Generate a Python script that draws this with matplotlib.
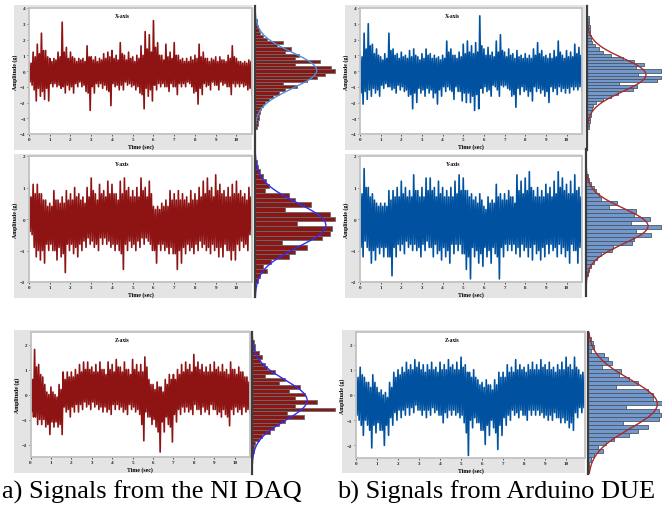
import numpy as np
import matplotlib
matplotlib.use("Agg")
import matplotlib.pyplot as plt
from matplotlib.patches import Rectangle

W, H = 662, 506
STEP = 0.2   # per 0.2 s: main peak up, smaller dip, smaller peak, main dip

# ---- signal peaks ----
daq_x_up = [0.6, 1.2, 1.7, 2.4, 1.3, 0.8, 0.8, 1.2, 3.1, 1.5, 1.2, 0.8, 0.8, 0.8, 1.6, 0.9, 0.9, 0.8,
            1.1, 1.2, 1.3, 1.0, 1.8, 1.0, 1.2, 0.9, 1.0, 1.6, 2.5, 2.3, 3.2, 1.8, 1.0, 1.7, 1.2, 1.8,
            1.0, 0.8, 0.8, 0.9, 1.0, 1.7, 1.2, 0.8, 0.8, 0.9, 0.9, 0.7, 1.0, 1.6, 0.8, 0.6, 0.6, 0.7]
daq_x_lo = [-0.9, -1.9, -1.6, -1.8, -1.9, -1.0, -1.0, -1.1, -1.4, -1.2, -1.4, -1.0, -1.0, -1.3, -2.5,
            -1.4, -1.0, -1.1, -1.2, -2.2, -1.0, -1.2, -1.2, -0.9, -1.0, -1.2, -1.4, -2.4, -1.6, -1.9,
            -1.2, -1.0, -1.0, -1.3, -1.0, -1.5, -1.0, -1.0, -0.8, -1.4, -2.1, -1.5, -1.0, -1.2, -0.9,
            -1.2, -0.9, -1.0, -1.5, -1.0, -1.0, -1.0, -1.2, -1.6]
daq_x_up2 = [0.5, 0.9, 1.1, 1.3, 0.9, 0.6, 0.7, 0.9, 1.2, 0.8, 0.9, 0.6, 0.7, 0.6, 0.9, 0.7, 0.6, 0.7,
             0.8, 0.9, 0.8, 0.7, 1.1, 0.7, 0.8, 0.6, 0.8, 1.0, 1.4, 1.2, 1.5, 1.0, 0.7, 0.9, 0.8, 1.0,
             0.7, 0.6, 0.6, 0.7, 0.8, 0.9, 0.8, 0.6, 0.7, 0.6, 0.7, 0.6, 0.8, 0.9, 0.6, 0.5, 0.5, 0.6]
daq_x_lo2 = [-0.7, -1.2, -1.1, -1.3, -1.1, -0.8, -0.8, -0.9, -1.0, -0.9, -1.0, -0.8, -0.7, -0.9, -1.4,
             -1.0, -0.8, -0.8, -0.9, -1.3, -0.8, -0.9, -0.9, -0.7, -0.8, -0.9, -1.0, -1.5, -1.1, -1.2,
             -0.9, -0.8, -0.8, -1.0, -0.8, -1.0, -0.8, -0.8, -0.7, -1.0, -1.3, -1.1, -0.8, -0.9, -0.7,
             -0.9, -0.7, -0.8, -1.0, -0.8, -0.8, -0.8, -0.9, -1.1]

due_x_up = [1.2, 2.4, 3.0, 1.7, 1.4, 0.9, 1.1, 2.4, 1.4, 1.1, 1.2, 1.0, 1.3, 1.4, 0.9, 1.1, 1.4, 1.1,
            1.0, 0.9, 1.0, 1.9, 1.4, 1.0, 1.2, 1.7, 1.9, 1.6, 1.8, 3.5, 1.4, 1.5, 1.2, 1.9, 2.3, 1.2,
            1.4, 1.1, 1.3, 1.0, 1.1, 1.0, 1.4, 1.8, 1.3, 1.0, 1.1, 1.3, 1.9, 1.0, 1.3, 1.2, 1.7, 1.5]
due_x_lo = [-2.1, -1.8, -1.6, -1.4, -1.6, -1.1, -1.0, -1.2, -1.4, -1.2, -1.3, -1.6, -2.4, -2.0, -1.4,
            -1.6, -1.4, -1.7, -2.1, -1.6, -1.3, -1.2, -1.8, -1.3, -1.9, -2.0, -2.0, -2.5, -2.4, -1.4,
            -1.3, -1.6, -1.0, -1.6, -1.0, -1.1, -1.6, -2.3, -1.5, -1.3, -1.6, -1.9, -1.3, -1.4, -1.6,
            -2.0, -1.3, -1.5, -1.3, -1.4, -1.4, -1.2, -1.2, -1.3]
due_x_up2 = [0.9, 1.4, 1.6, 1.1, 1.0, 0.7, 0.8, 1.3, 1.0, 0.8, 0.9, 0.8, 0.9, 1.0, 0.7, 0.8, 1.0, 0.8,
             0.8, 0.7, 0.8, 1.2, 1.0, 0.8, 0.9, 1.1, 1.2, 1.1, 1.2, 1.6, 1.0, 1.0, 0.9, 1.2, 1.3, 0.9,
             1.0, 0.8, 0.9, 0.8, 0.8, 0.8, 1.0, 1.1, 0.9, 0.8, 0.8, 0.9, 1.2, 0.8, 0.9, 0.9, 1.1, 1.0]
due_x_lo2 = [-1.4, -1.3, -1.2, -1.1, -1.2, -0.9, -0.8, -1.0, -1.1, -0.9, -1.0, -1.2, -1.5, -1.4, -1.1,
             -1.2, -1.1, -1.2, -1.4, -1.2, -1.0, -1.0, -1.3, -1.0, -1.3, -1.4, -1.4, -1.6, -1.5, -1.1,
             -1.0, -1.2, -0.9, -1.2, -0.9, -0.9, -1.2, -1.5, -1.1, -1.0, -1.2, -1.3, -1.0, -1.1, -1.2,
             -1.3, -1.0, -1.1, -1.0, -1.1, -1.1, -1.0, -1.0, -1.0]

daq_y_up = [1.15, 1.1, 1.1, 0.8, 0.6, 0.5, 0.9, 0.6, 0.7, 0.9, 0.8, 1.0, 0.8, 0.7, 1.0, 1.3, 0.8, 1.1,
            0.9, 1.2, 1.1, 0.8, 1.2, 1.3, 1.0, 0.9, 1.0, 1.3, 1.0, 1.2, 0.4, 0.4, 0.5, 0.6, 0.9, 0.8,
            0.9, 0.8, 0.7, 0.9, 0.8, 1.0, 1.2, 1.3, 1.0, 1.4, 1.1, 0.9, 1.0, 1.1, 1.2, 0.9, 0.8, 1.0]
daq_y_lo = [-0.5, -1.2, -1.3, -1.4, -1.0, -1.0, -1.3, -1.2, -1.7, -1.0, -1.1, -1.2, -1.0, -0.9, -0.8,
            -0.9, -1.0, -0.8, -0.8, -0.9, -1.0, -1.0, -1.6, -1.0, -0.9, -1.0, -0.9, -0.8, -0.7, -1.0,
            -1.4, -1.0, -1.0, -1.1, -1.1, -1.6, -1.4, -1.1, -1.0, -1.1, -1.0, -0.9, -1.0, -1.1, -1.0,
            -1.2, -1.2, -1.0, -1.3, -1.3, -1.0, -0.9, -1.0, -0.6]
daq_y_up2 = [0.7, 0.8, 0.8, 0.6, 0.4, 0.4, 0.6, 0.5, 0.5, 0.6, 0.6, 0.7, 0.6, 0.5, 0.7, 0.9, 0.6, 0.8,
             0.7, 0.8, 0.8, 0.6, 0.8, 0.9, 0.7, 0.7, 0.7, 0.9, 0.7, 0.8, 0.3, 0.3, 0.4, 0.4, 0.6, 0.6,
             0.6, 0.6, 0.5, 0.6, 0.6, 0.7, 0.8, 0.9, 0.7, 0.9, 0.8, 0.7, 0.7, 0.8, 0.8, 0.7, 0.6, 0.7]
daq_y_lo2 = [-0.4, -0.9, -1.0, -1.0, -0.8, -0.8, -1.0, -0.9, -1.1, -0.8, -0.8, -0.9, -0.8, -0.7, -0.6,
             -0.7, -0.8, -0.6, -0.6, -0.7, -0.8, -0.8, -1.1, -0.8, -0.7, -0.8, -0.7, -0.6, -0.6, -0.8,
             -1.0, -0.8, -0.8, -0.9, -0.9, -1.1, -1.0, -0.9, -0.8, -0.9, -0.8, -0.7, -0.8, -0.9, -0.8,
             -0.9, -0.9, -0.8, -1.0, -1.0, -0.8, -0.7, -0.8, -0.5]

due_y_up = [1.1, 1.6, 1.0, 0.8, 0.5, 0.5, 0.5, 0.9, 0.9, 1.0, 1.2, 1.0, 0.9, 1.4, 0.9, 1.0, 1.3, 1.3,
            1.0, 1.2, 1.0, 0.9, 1.0, 1.2, 1.4, 1.3, 0.9, 0.8, 0.7, 0.8, 0.4, 0.7, 0.6, 1.1, 0.8, 0.8,
            0.9, 0.7, 1.4, 1.2, 1.3, 1.5, 0.9, 1.0, 0.9, 1.1, 1.0, 1.2, 1.5, 1.3, 1.1, 1.2, 1.4, 1.0]
due_y_lo = [-1.2, -0.9, -1.4, -1.3, -1.1, -1.2, -1.2, -1.8, -1.2, -1.0, -1.1, -0.9, -1.0, -1.0, -1.2,
            -1.0, -0.9, -1.2, -1.1, -1.3, -1.2, -1.4, -1.1, -1.0, -1.1, -1.6, -1.9, -1.2, -1.4, -1.5,
            -1.2, -1.4, -1.1, -1.9, -1.2, -1.0, -1.0, -1.1, -1.2, -1.0, -1.2, -1.3, -1.1, -1.3, -1.2,
            -1.1, -1.0, -1.2, -1.1, -1.2, -1.4, -1.0, -1.4, -1.2]
due_y_up2 = [0.8, 1.0, 0.7, 0.6, 0.4, 0.4, 0.4, 0.6, 0.7, 0.7, 0.8, 0.7, 0.7, 0.9, 0.7, 0.7, 0.9, 0.9,
             0.7, 0.8, 0.7, 0.7, 0.7, 0.8, 0.9, 0.9, 0.7, 0.6, 0.5, 0.6, 0.3, 0.5, 0.5, 0.7, 0.6, 0.6,
             0.7, 0.5, 0.9, 0.8, 0.9, 1.0, 0.7, 0.7, 0.7, 0.8, 0.7, 0.8, 1.0, 0.9, 0.8, 0.8, 0.9, 0.7]
due_y_lo2 = [-0.9, -0.7, -1.0, -1.0, -0.9, -0.9, -0.9, -1.2, -0.9, -0.8, -0.8, -0.7, -0.8, -0.8, -0.9,
             -0.8, -0.7, -0.9, -0.8, -1.0, -0.9, -1.0, -0.8, -0.8, -0.8, -1.1, -1.2, -0.9, -1.0, -1.1,
             -0.9, -1.0, -0.9, -1.2, -0.9, -0.8, -0.8, -0.8, -0.9, -0.8, -0.9, -0.9, -0.8, -1.0, -0.9,
             -0.8, -0.8, -0.9, -0.8, -0.9, -1.0, -0.8, -1.0, -0.9]

daq_z_up = [0.8, 1.8, 1.2, 0.7, 0.1, 0.3, 0.0, 0.4, 0.9, 0.9, 0.9, 1.0, 1.2, 1.3, 1.3, 1.1, 1.2, 1.3,
            1.0, 1.3, 1.2, 1.4, 1.1, 1.3, 1.0, 1.4, 1.2, 1.2, 1.5, 0.6, 0.4, 0.5, 0.3, 0.6, 0.8, 0.8,
            1.0, 1.2, 1.3, 1.2, 1.6, 1.3, 1.2, 1.1, 1.2, 1.3, 1.1, 1.2, 1.0, 1.3, 1.0, 1.1, 0.9, 0.7]
daq_z_lo = [-0.9, -1.2, -1.2, -1.3, -1.6, -1.3, -1.3, -1.6, -0.7, -0.9, -0.7, -0.7, -0.6, -0.5, -0.6,
            -0.5, -0.6, -0.7, -0.7, -0.8, -0.6, -0.6, -0.7, -0.8, -0.6, -0.7, -0.8, -1.85, -0.9, -1.2,
            -1.3, -2.3, -1.5, -1.2, -1.9, -1.1, -0.8, -0.7, -0.7, -0.8, -0.6, -0.8, -0.7, -0.8, -0.6,
            -0.8, -0.9, -0.8, -1.25, -0.8, -0.7, -0.8, -0.7, -0.8]
daq_z_up2 = [0.6, 1.1, 0.8, 0.4, 0.0, 0.1, -0.1, 0.2, 0.6, 0.7, 0.7, 0.8, 0.9, 1.0, 1.0, 0.9, 0.9, 1.0,
             0.8, 1.0, 0.9, 1.1, 0.9, 1.0, 0.8, 1.0, 0.9, 0.9, 1.1, 0.4, 0.2, 0.3, 0.1, 0.4, 0.6, 0.6,
             0.8, 0.9, 1.0, 0.9, 1.1, 1.0, 0.9, 0.9, 0.9, 1.0, 0.9, 0.9, 0.8, 1.0, 0.8, 0.9, 0.7, 0.5]
daq_z_lo2 = [-0.7, -0.9, -1.0, -1.0, -1.2, -1.1, -1.1, -1.2, -0.5, -0.6, -0.5, -0.4, -0.4, -0.3, -0.4,
             -0.3, -0.4, -0.5, -0.5, -0.6, -0.4, -0.4, -0.5, -0.6, -0.4, -0.5, -0.6, -1.2, -0.7, -0.9,
             -1.0, -1.5, -1.1, -0.9, -1.3, -0.8, -0.6, -0.5, -0.5, -0.6, -0.4, -0.6, -0.5, -0.6, -0.4,
             -0.6, -0.7, -0.6, -0.9, -0.6, -0.5, -0.6, -0.5, -0.6]

due_z_up = [1.0, 1.1, 0.7, 0.5, 0.8, 0.3, 0.2, 0.1, 0.5, 0.9, 1.0, 1.1, 1.3, 1.2, 1.4, 1.3, 1.2, 1.2,
            1.3, 1.1, 1.3, 1.2, 1.4, 1.2, 1.3, 1.5, 1.2, 0.9, 1.0, 0.6, 0.5, 0.6, 0.4, 0.6, 0.9, 0.9,
            1.2, 1.1, 1.4, 1.2, 1.1, 1.2, 1.3, 1.2, 1.4, 1.2, 1.3, 1.1, 1.2, 1.3, 1.5, 1.2, 1.5, 1.0, 0.9]
due_z_lo = [-1.0, -1.6, -1.2, -2.1, -1.5, -1.4, -2.0, -1.6, -1.2, -1.0, -0.9, -0.8, -0.8, -0.7, -0.6,
            -0.8, -0.9, -0.8, -0.7, -0.8, -1.1, -0.9, -0.8, -0.8, -0.9, -1.1, -2.4, -1.3, -1.1, -1.4,
            -1.96, -1.6, -1.3, -2.16, -1.6, -1.2, -1.0, -0.8, -0.9, -0.8, -1.0, -0.8, -0.8, -0.8, -0.9,
            -1.0, -1.0, -0.9, -1.1, -1.1, -1.3, -1.4, -0.9, -0.7, -0.6]
due_z_up2 = [0.7, 0.8, 0.5, 0.3, 0.5, 0.1, 0.0, -0.1, 0.3, 0.7, 0.8, 0.9, 1.0, 1.0, 1.1, 1.0, 0.9, 1.0,
             1.0, 0.9, 1.0, 1.0, 1.1, 1.0, 1.0, 1.1, 0.9, 0.7, 0.7, 0.4, 0.3, 0.4, 0.2, 0.4, 0.7, 0.7,
             0.9, 0.9, 1.0, 1.0, 0.9, 1.0, 1.0, 1.0, 1.1, 1.0, 1.0, 0.9, 1.0, 1.0, 1.1, 1.0, 1.1, 0.8, 0.7]
due_z_lo2 = [-0.8, -1.2, -1.0, -1.4, -1.2, -1.1, -1.4, -1.2, -0.9, -0.7, -0.6, -0.6, -0.5, -0.5, -0.4,
             -0.6, -0.6, -0.6, -0.5, -0.6, -0.8, -0.7, -0.6, -0.6, -0.7, -0.8, -1.5, -1.0, -0.9, -1.1,
             -1.4, -1.2, -1.0, -1.5, -1.2, -0.9, -0.8, -0.6, -0.7, -0.6, -0.8, -0.6, -0.6, -0.6, -0.7,
             -0.8, -0.8, -0.7, -0.9, -0.9, -1.0, -1.1, -0.7, -0.5, -0.5]

# ---- histogram bins: lowest edge, bin width, counts from bottom to top ----
daq_x_hist = (-3.7, 0.2, [2, 3, 3, 4, 4, 5, 6, 8, 10, 14, 18, 24, 30, 42, 28, 52, 62, 70, 80, 76,
                          40, 65, 40, 44, 30, 36, 22, 28, 12, 8, 5, 4, 3, 2, 2])
due_x_hist = (-3.7, 0.2, [2, 2, 3, 3, 4, 4, 5, 6, 9, 16, 24, 31, 46, 50, 32, 70, 74, 51, 74, 49,
                          57, 47, 36, 24, 16, 12, 8, 5, 4, 4, 3, 3, 3, 2, 2, 2])
daq_y_hist = (-2.025, 0.15, [3, 5, 12, 8, 16, 34, 40, 52, 27, 67, 75, 77, 42, 80, 75, 30, 56, 40,
                             34, 10, 14, 11, 8, 5, 3, 2])
due_y_hist = (-1.8125, 0.125, [2, 3, 5, 8, 11, 15, 26, 27, 46, 48, 65, 50, 75, 45, 64, 48, 50, 23,
                               31, 15, 13, 10, 8, 5, 3, 2])
daq_z_hist = (-2.475, 0.15, [1, 2, 2, 3, 7, 10, 18, 22, 27, 33, 52, 35, 83, 43, 65, 43, 53, 37, 48,
                             27, 33, 13, 23, 15, 13, 8, 10, 7, 3, 3, 2])
due_z_hist = (-2.96, 0.16, [1, 1, 3, 6, 15, 10, 18, 26, 41, 50, 60, 35, 71, 73, 71, 38, 75, 65, 65,
                            60, 28, 50, 41, 31, 33, 14, 24, 20, 16, 3, 6, 5, 3, 1])

titles = ["X-axis", "Y-axis", "Z-axis"]
y_limits = [(-4, 4), (-2, 2), (-2.5, 2.5)]
y_ticks = [range(-4, 5), range(-2, 3), range(-2, 3)]
x_ticks = range(0, 11)
captions = ["a) Signals from the NI DAQ", "b) Signals from Arduino DUE"]

# layout in pixels: gray box, plot box, histogram (line x, top, bottom, width), x max
layout = {
    (0, 0): ((14, 6, 252, 151), (29, 9, 252, 135), (255, 7, 151, 90), 10.75),
    (0, 1): ((14, 155, 252, 299), (29, 157, 252, 283), (255, 153, 298, 90), 10.75),
    (0, 2): ((14, 331, 250, 474), (30.5, 333, 250, 458), (252, 333, 475, 90), 10.75),
    (1, 0): ((345, 6, 585, 151), (360, 9, 582, 135), (587, 7, 151, 75), 10.75),
    (1, 1): ((345, 155, 582, 299), (360, 157, 582, 283), (586, 150, 297, 76), 10.75),
    (1, 2): ((342, 331, 585, 474), (356, 333, 585, 459), (588, 333, 475, 74), 10.9),
}

signals = {
    (0, 0): ((daq_x_up, daq_x_lo2, daq_x_up2, daq_x_lo), daq_x_hist),
    (0, 1): ((daq_y_up, daq_y_lo2, daq_y_up2, daq_y_lo), daq_y_hist),
    (0, 2): ((daq_z_up, daq_z_lo2, daq_z_up2, daq_z_lo), daq_z_hist),
    (1, 0): ((due_x_up, due_x_lo2, due_x_up2, due_x_lo), due_x_hist),
    (1, 1): ((due_y_up, due_y_lo2, due_y_up2, due_y_lo), due_y_hist),
    (1, 2): ((due_z_up, due_z_lo2, due_z_up2, due_z_lo), due_z_hist),
}

line_col = ["#8e1313", "#0052a0"]
bar_col = ["#8b1616", "#7199d0"]
bar_edge = ["#6a6a6a", "#50565e"]
fit_col = [["#4a8fe0", "#2e2ef5", "#2e2ef5"], ["#a82a2a"] * 3]
FONT = "Liberation Serif"


def box(x0, y0, x1, y1):
    return [x0 / W, 1 - y1 / H, (x1 - x0) / W, (y1 - y0) / H]


def trace(parts):
    # interleave the four peak lists: 4 vertices per 0.2 s interval
    vals = np.column_stack(parts).ravel()
    n = len(parts[0])
    t = (np.arange(n)[:, None] * STEP + np.arange(4)[None, :] * STEP / 4).ravel()
    return t, vals


fig = plt.figure(figsize=(W / 100, H / 100), dpi=100)

for (col, row), (gray, pbox, hbox, xmax) in layout.items():
    parts, (h_lo, bw, counts) = signals[(col, row)]
    fig.add_artist(Rectangle((gray[0] / W, 1 - gray[3] / H), (gray[2] - gray[0]) / W,
                             (gray[3] - gray[1]) / H, transform=fig.transFigure,
                             facecolor="#e4e4e4", edgecolor="none", zorder=-5))

    ax = fig.add_axes(box(*pbox))
    tt, vv = trace(parts)
    ax.plot(tt, vv, color=line_col[col], lw=1.2)
    ymin, ymax = y_limits[row]
    ax.set_xlim(0, xmax)
    ax.set_ylim(ymin, ymax)
    ax.set_xticks(list(x_ticks))
    ax.set_yticks(list(y_ticks[row]))
    ax.tick_params(length=1.5, width=0.5, pad=1, labelsize=3.6, colors="#222222")
    for lab in ax.get_xticklabels() + ax.get_yticklabels():
        lab.set_fontfamily(FONT)
        lab.set_fontweight("bold")
    for sp in ax.spines.values():
        sp.set_color("#c2c2c2")
        sp.set_linewidth(1.3)
    ax.text(0.418, 0.96, titles[row], transform=ax.transAxes, ha="center", va="top",
            fontsize=4, fontweight="bold", family=FONT)
    ax.set_xlabel("Time (sec)", fontsize=4.2, fontweight="bold", family=FONT, labelpad=1.5)
    ax.set_ylabel("Amplitude (g)", fontsize=4.2, fontweight="bold", family=FONT, labelpad=1.5)

    # histogram sharing the same vertical scale, taller like the original
    hx, ht, hb, hw = hbox
    s = (ymax - ymin) / (pbox[3] - pbox[1])
    hy_max = ymax + (pbox[1] - ht) * s
    hy_min = ymin - (hb - pbox[3]) * s
    hax = fig.add_axes(box(hx, ht, hx + hw, hb))
    hax.patch.set_alpha(0)
    counts = np.array(counts, dtype=float)
    centers = h_lo + bw * (np.arange(len(counts)) + 0.5)
    hax.barh(centers, counts, height=bw, color=bar_col[col], edgecolor=bar_edge[col],
             linewidth=0.6)
    total = counts.sum()
    mu = (counts * centers).sum() / total
    sd = np.sqrt((counts * (centers - mu) ** 2).sum() / total)
    yy = np.linspace(hy_min, hy_max, 300)
    fit = total * bw / (sd * np.sqrt(2 * np.pi)) * np.exp(-0.5 * ((yy - mu) / sd) ** 2)
    hax.plot(fit, yy, color=fit_col[col][row], lw=1.0)
    hax.set_xlim(0, hw)
    hax.set_ylim(hy_min, hy_max)
    hax.set_xticks([])
    hax.set_yticks([])
    for name, sp in hax.spines.items():
        sp.set_visible(name == "left")
    hax.spines["left"].set_color("#3c3c3c")
    hax.spines["left"].set_linewidth(1.6)

for x0, cap in zip([2, 337], captions):
    fig.text(x0 / W, 1 - 499 / H, cap, fontsize=19, family=FONT, va="baseline", ha="left")

fig.savefig("out.png", dpi=100)
